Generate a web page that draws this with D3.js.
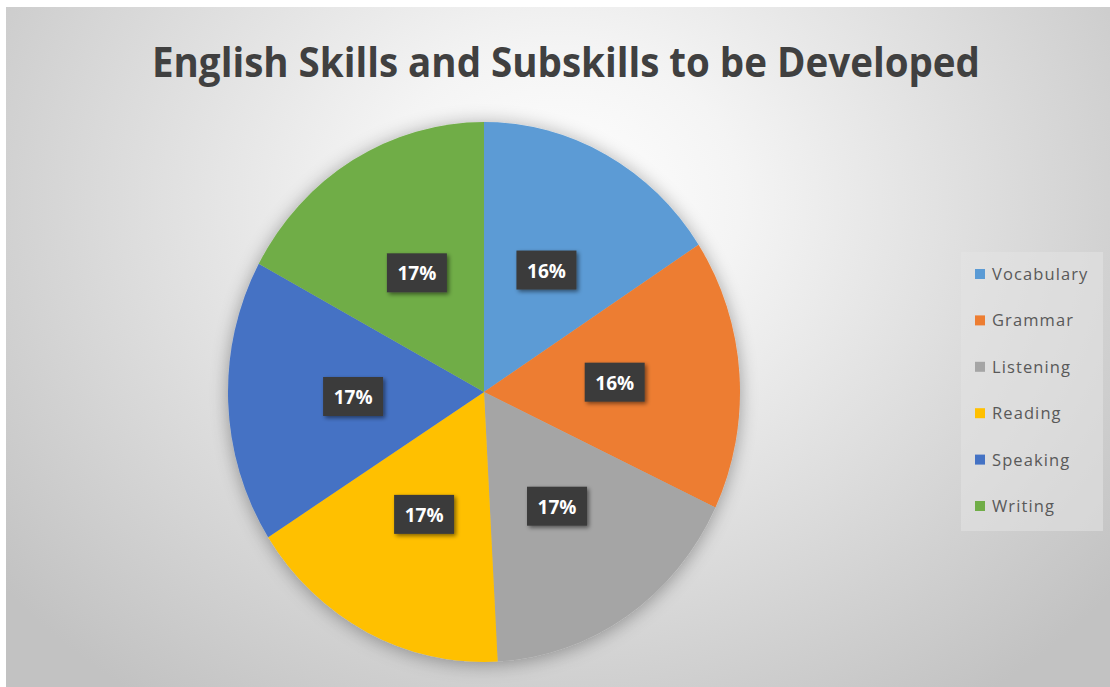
<!DOCTYPE html>
<html>
<head>
<meta charset="utf-8">
<script src="https://cdn.jsdelivr.net/npm/d3@7"></script>
<style>
  html, body { margin: 0; padding: 0; background: #ffffff; }
  svg { display: block; }
</style>
</head>
<body>
<div id="chart"></div>
<script>
const categories = ["Vocabulary", "Grammar", "Listening", "Reading", "Speaking", "Writing"];
const values = [15.8, 16.2, 17.1, 16.8, 16.9, 17.1];
const labels = ["16%", "16%", "17%", "17%", "17%", "17%"];
const colors = ["#5B9BD5", "#ED7D31", "#A5A5A5", "#FFC000", "#4472C4", "#70AD47"];
const title = "English Skills and Subskills to be Developed";

const W = 1110, H = 687;
const svg = d3.select("#chart").append("svg").attr("width", W).attr("height", H);
const defs = svg.append("defs");

const bg = defs.append("radialGradient").attr("id", "bg")
  .attr("gradientUnits", "userSpaceOnUse")
  .attr("cx", 560).attr("cy", 200).attr("r", 720)
  .attr("gradientTransform", "translate(560,200) scale(1,0.85) translate(-560,-200)");
bg.append("stop").attr("offset", "0%").attr("stop-color", "#ffffff");
bg.append("stop").attr("offset", "25%").attr("stop-color", "#f4f4f4");
bg.append("stop").attr("offset", "100%").attr("stop-color", "#c2c2c2");

const sh = defs.append("filter").attr("id", "pieShadow")
  .attr("x", "-20%").attr("y", "-20%").attr("width", "140%").attr("height", "140%");
sh.append("feGaussianBlur").attr("in", "SourceAlpha").attr("stdDeviation", 9).attr("result", "b");
sh.append("feOffset").attr("in", "b").attr("dx", 0).attr("dy", 2).attr("result", "o");
sh.append("feComponentTransfer").attr("in", "o").attr("result", "o2")
  .append("feFuncA").attr("type", "linear").attr("slope", 0.35);
const m1 = sh.append("feMerge");
m1.append("feMergeNode").attr("in", "o2");
m1.append("feMergeNode").attr("in", "SourceGraphic");

const ls = defs.append("filter").attr("id", "lblShadow")
  .attr("x", "-30%").attr("y", "-30%").attr("width", "160%").attr("height", "160%");
ls.append("feGaussianBlur").attr("in", "SourceAlpha").attr("stdDeviation", 2).attr("result", "b");
ls.append("feOffset").attr("in", "b").attr("dx", 2).attr("dy", 2).attr("result", "o");
ls.append("feComponentTransfer").attr("in", "o").attr("result", "o2")
  .append("feFuncA").attr("type", "linear").attr("slope", 0.5);
const m2 = ls.append("feMerge");
m2.append("feMergeNode").attr("in", "o2");
m2.append("feMergeNode").attr("in", "SourceGraphic");

// background
svg.append("rect").attr("x", 6).attr("y", 7).attr("width", W - 6).attr("height", H - 7)
  .attr("fill", "url(#bg)");

// title
svg.append("text")
  .attr("x", 566).attr("y", 77)
  .attr("text-anchor", "middle")
  .attr("font-family", "'Open Sans', 'Noto Sans', sans-serif")
  .attr("font-weight", 700)
  .attr("font-size", 41)
  .attr("fill", "#404040")
  .attr("textLength", 828)
  .attr("lengthAdjust", "spacingAndGlyphs")
  .text(title);

// pie
const cx = 484, cy = 392, R = 256, sy = 270 / 256;
const pie = d3.pie().sort(null).value(d => d)(values);
const arc = d3.arc().innerRadius(0).outerRadius(R);
const labelArc = d3.arc().innerRadius(131).outerRadius(131);

const g = svg.append("g").attr("transform", `translate(${cx},${cy}) scale(1,${sy})`);
g.append("g").attr("filter", "url(#pieShadow)")
  .selectAll("path").data(pie).join("path")
  .attr("d", arc)
  .attr("fill", (d, i) => colors[i]);

const lg = svg.append("g").attr("transform", `translate(${cx},${cy})`);
const lab = lg.selectAll("g.lab").data(pie).join("g").attr("class", "lab")
  .attr("transform", d => { const c = labelArc.centroid(d); return `translate(${c[0]},${c[1] * sy})`; });
lab.append("rect").attr("x", -30).attr("y", -20).attr("width", 60).attr("height", 39)
  .attr("fill", "#3b3b3b").attr("filter", "url(#lblShadow)");
lab.append("text").attr("text-anchor", "middle").attr("dy", 7)
  .attr("font-family", "'Open Sans', 'Noto Sans', sans-serif")
  .attr("font-weight", 700).attr("font-size", 19).attr("fill", "#ffffff")
  .text((d, i) => labels[i]);

// legend
svg.append("rect").attr("x", 961).attr("y", 252).attr("width", 142).attr("height", 279)
  .attr("fill", "#e4e4e4").attr("opacity", 0.55);
const leg = svg.append("g").selectAll("g").data(categories).join("g")
  .attr("transform", (d, i) => `translate(975,${274 + i * 46.4})`);
leg.append("rect").attr("x", 0).attr("y", -5).attr("width", 10).attr("height", 10)
  .attr("fill", (d, i) => colors[i]);
leg.append("text").attr("x", 17).attr("y", 6)
  .attr("font-family", "'Open Sans', 'Noto Sans', sans-serif")
  .attr("font-size", 16.5).attr("letter-spacing", 1.1).attr("fill", "#595959")
  .text(d => d);
</script>
</body>
</html>
